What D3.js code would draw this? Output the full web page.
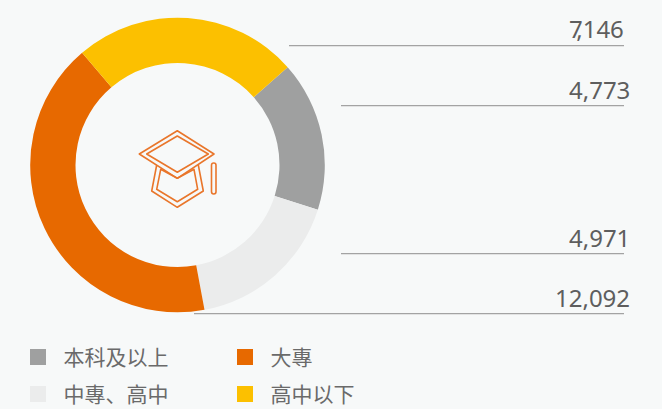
<!DOCTYPE html>
<html lang="zh">
<head>
<meta charset="UTF-8">
<title>d3js - donut</title>
<script src="https://d3js.org/d3.v7.min.js"></script>
<style>
html, body { margin: 0; padding: 0; background: #f7f9f9; }
svg { display: block; }
</style>
</head>
<body>
<script>
// data, clockwise from the grey slice
var categories = ["本科及以上", "中專、高中", "大專", "高中以下"];
var values = [4773, 4971, 12092, 7146];
var colors = ["#9fa0a0", "#ebecec", "#e76900", "#fcc000"];

// leader lines, top to bottom
var lineOrder = [3, 0, 1, 2];
var lineY = [46, 106, 254, 314];
var lineStart = [289, 341, 341, 194];
var labelX = [569, 569, 569, 555];
var labelY = [38, 99, 247, 307];
// the "7," pair sits tight in the original
var labelDx = ["0 -6.5", null, null, null];

var width = 662;
var height = 409;
var cx = 177.5;
var cy = 165;

var svg = d3.select("body").append("svg")
    .attr("width", width)
    .attr("height", height);

svg.append("rect")
    .attr("width", width)
    .attr("height", height)
    .attr("fill", "#f7f9f9");

var startAngle = 48.4 * Math.PI / 180;
var pie = d3.pie().sort(null).startAngle(startAngle).endAngle(startAngle + 2 * Math.PI);
var arc = d3.arc().innerRadius(102).outerRadius(147.3);

svg.append("g")
    .attr("transform", "translate(" + cx + "," + cy + ")")
    .selectAll("path")
    .data(pie(values))
    .join("path")
    .attr("d", arc)
    .attr("fill", (d, i) => colors[i]);

// leader lines and numbers
var fmt = d3.format(",");
var rows = svg.append("g").selectAll("g")
    .data(lineOrder)
    .join("g");

rows.append("line")
    .attr("x1", (d, i) => lineStart[i])
    .attr("x2", 624)
    .attr("y1", (d, i) => lineY[i] - 0.3)
    .attr("y2", (d, i) => lineY[i] - 0.3)
    .attr("stroke", "#a3a3a3")
    .attr("stroke-width", 1.3);

rows.append("text")
    .attr("x", (d, i) => labelX[i])
    .attr("y", (d, i) => labelY[i])
    .attr("dx", (d, i) => labelDx[i])
    .attr("font-family", "'Noto Sans', sans-serif")
    .attr("font-size", 24)
    .attr("fill", "#5e5e5e")
    .text(d => fmt(values[d]));

// graduation cap in the middle
var icon = svg.append("g")
    .attr("fill", "none")
    .attr("stroke", "#e9762b")
    .attr("stroke-width", 1.6)
    .attr("stroke-linejoin", "round");

icon.append("path").attr("d", "M177.3 130.7L214 154L177.3 178.3L139.3 154Z");
icon.append("path").attr("d", "M177.3 136L208.3 154L177.3 172.3L146.7 154Z");
icon.append("path").attr("d", "M156.7 165L151.7 191L177.3 207.3L203.3 191L198.3 165");
icon.append("path").attr("d", "M160.7 169.3L156.7 189.3L177.3 201.7L197.7 189.3L194 169.3L177.3 178.3Z");
icon.append("rect")
    .attr("x", 211.5).attr("y", 163)
    .attr("width", 4.5).attr("height", 31)
    .attr("rx", 2.2);

// legend, two columns
var legendX = [30, 237, 30, 237];
var legendY = [349, 349, 386, 386];
var legendOrder = [0, 2, 1, 3];

var legend = svg.append("g").selectAll("g")
    .data(legendOrder)
    .join("g")
    .attr("transform", (d, i) => "translate(" + legendX[i] + "," + legendY[i] + ")");

legend.append("rect")
    .attr("width", 16)
    .attr("height", 16)
    .attr("fill", d => colors[d]);

legend.append("text")
    .attr("x", 33.5)
    .attr("y", 15.5)
    .attr("font-family", "'Noto Sans CJK TC', 'Noto Sans CJK SC', sans-serif")
    .attr("font-size", 21)
    .attr("fill", "#6a6a6a")
    .text(d => categories[d]);
</script>
</body>
</html>
